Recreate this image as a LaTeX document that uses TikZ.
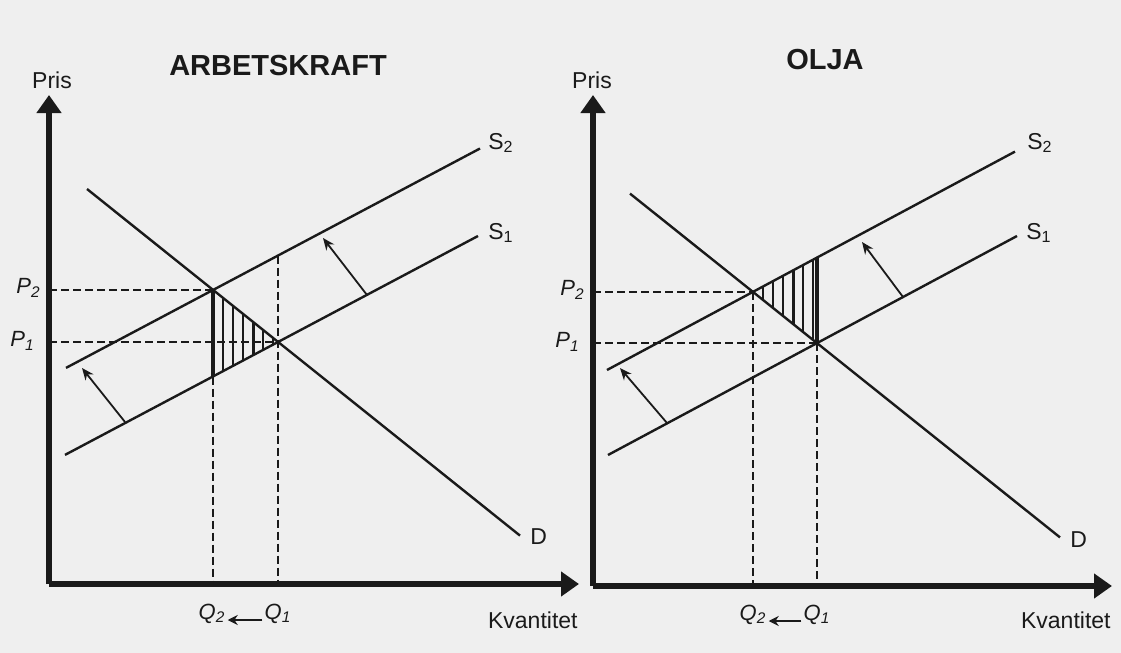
\documentclass[tikz,border=0pt]{standalone}
\usepackage{fontspec}
\setmainfont{Liberation Sans}
\usetikzlibrary{arrows.meta,calc}
\definecolor{paper}{HTML}{EFEFEF}
\definecolor{ink}{HTML}{1A1A1A}
\tikzset{
  axisline/.style={draw=ink, line width=2.6pt, -{Triangle[length=9pt,width=12pt]}},
  curveline/.style={draw=ink, line width=1.2pt},
  guide/.style={draw=ink, line width=1pt, dash pattern=on 4pt off 2pt},
  hatch/.style={draw=ink, line width=1.2pt},
  shiftarrow/.style={draw=ink, line width=0.9pt, -{Stealth[length=6pt,width=5pt]}},
  qarrow/.style={draw=ink, line width=1.2pt, -{Stealth[length=5pt,width=5pt]}},
  lbl/.style={font=\fontsize{11.5}{13}\selectfont, text=ink, inner sep=1pt},
  sym/.style={font=\fontsize{11}{13}\selectfont\itshape, text=ink, inner sep=1pt},
  heading/.style={font=\fontsize{14.5}{17}\selectfont\bfseries, text=ink}
}

\begin{document}
\begin{tikzpicture}[x=0.5pt,y=-0.5pt]
  \fill[paper] (0,0) rectangle (1121,653);
  \useasboundingbox (0,0) rectangle (1121,653);

  % ---------- left panel: arbetskraft ----------
  \coordinate (oL) at (49,584);
  \coordinate (e2L) at (213,290);   % D x S2
  \coordinate (e1L) at (278,342);   % D x S1
  \coordinate (bL) at (213,376.5);  % S1 under e2L
  \coordinate (tL) at (278,255.6);  % S2 above e1L

  \draw[guide] (49,290) -- (e2L);
  \draw[guide] (49,342) -- (e1L);
  \draw[guide] (bL) -- (213,584);
  \draw[guide] (tL) -- (278,584);

  \foreach \t in {0.15,0.31,0.46,0.62,0.77,0.92}
    \draw[hatch] ($(e2L)!\t!(e1L)$) -- ($(bL)!\t!(e1L)$);
  \draw[hatch, line width=1.7pt] (e2L) -- (bL);

  \draw[curveline] (87,189) -- (520,535.6);
  \draw[curveline] (65,454.9) -- (478,236);
  \draw[curveline] (66,367.9) -- (480,148.5);

  \draw[shiftarrow] (125,422) -- (82,368);
  \draw[shiftarrow] (367,295) -- (323,238);

  \draw[axisline] (oL) -- (49,95);
  \draw[axisline] (oL) -- (579,584);

  \node[lbl] (prisL) at (52,80) {Pris};
  \node[heading] (titleL) at (278,66) {ARBETSKRAFT};
  \node[lbl, anchor=west] (s2L) at (486,143) {S\textsubscript{2}};
  \node[lbl, anchor=west] (s1L) at (486,233) {S\textsubscript{1}};
  \node[lbl, anchor=west] (dL) at (528,537) {D};
  \node[sym, anchor=east] (p2L) at (43,288) {P\textsubscript{2}};
  \node[sym, anchor=east] (p1L) at (37,341) {P\textsubscript{1}};
  \node[sym] (q2L) at (212,614) {Q\textsubscript{2}};
  \node[sym] (q1L) at (278,614) {Q\textsubscript{1}};
  \draw[qarrow] ([yshift=-3pt]q1L.west) -- ([yshift=-3pt]q2L.east);
  \node[lbl, anchor=east] (kvL) at (580,620) {Kvantitet};

  % ---------- right panel: olja ----------
  \coordinate (oR) at (593,586);
  \coordinate (e2R) at (753,292);   % D x S2
  \coordinate (e1R) at (817,343);   % D x S1
  \coordinate (tR) at (817,257.7);  % S2 above e1R

  \draw[guide] (593,292) -- (e2R);
  \draw[guide] (593,343) -- (e1R);
  \draw[guide] (e2R) -- (753,586);
  \draw[guide] (e1R) -- (817,586);

  \foreach \t in {0.16,0.31,0.47,0.63,0.78,0.94}
    \draw[hatch] ($(e2R)!\t!(tR)$) -- ($(e2R)!\t!(e1R)$);
  \draw[hatch, line width=1.7pt] (tR) -- (e1R);

  \draw[curveline] (630,193.6) -- (1060,537.4);
  \draw[curveline] (608,455) -- (1017,236);
  \draw[curveline] (607,370) -- (1015,151.6);

  \draw[shiftarrow] (667,423) -- (620,368);
  \draw[shiftarrow] (903,297) -- (862,242);

  \draw[axisline] (oR) -- (593,95);
  \draw[axisline] (oR) -- (1112,586);

  \node[lbl] (prisR) at (592,80) {Pris};
  \node[heading] (titleR) at (825,60) {OLJA};
  \node[lbl, anchor=west] (s2R) at (1025,143) {S\textsubscript{2}};
  \node[lbl, anchor=west] (s1R) at (1024,233) {S\textsubscript{1}};
  \node[lbl, anchor=west] (dR) at (1068,540) {D};
  \node[sym, anchor=east] (p2R) at (587,290) {P\textsubscript{2}};
  \node[sym, anchor=east] (p1R) at (582,342) {P\textsubscript{1}};
  \node[sym] (q2R) at (753,615) {Q\textsubscript{2}};
  \node[sym] (q1R) at (817,615) {Q\textsubscript{1}};
  \draw[qarrow] ([yshift=-3pt]q1R.west) -- ([yshift=-3pt]q2R.east);
  \node[lbl, anchor=east] (kvR) at (1113,620) {Kvantitet};
\end{tikzpicture}
\end{document}
